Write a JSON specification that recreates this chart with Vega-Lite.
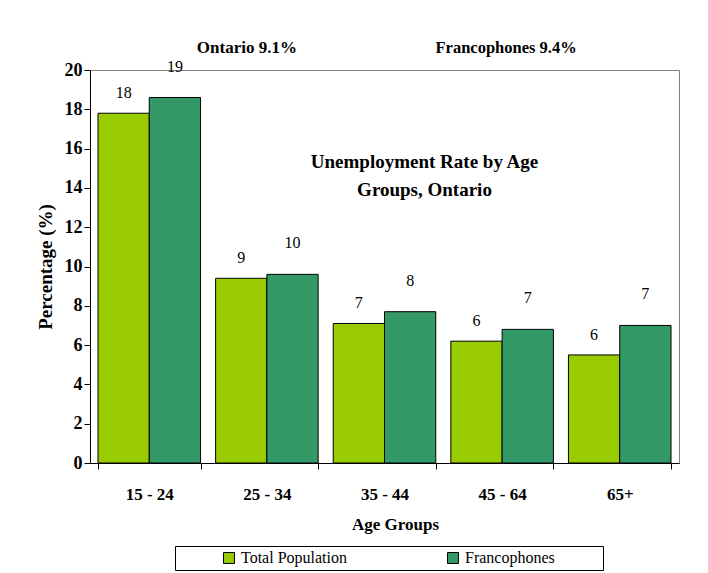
{
  "$schema": "https://vega.github.io/schema/vega-lite/v6.json",
  "autosize": "none",
  "width": 589,
  "height": 393,
  "padding": {"left": 90, "top": 70, "right": 29, "bottom": 110},
  "background": "white",
  "title": {
    "text": ["Unemployment Rate by Age", "Groups, Ontario"],
    "anchor": "middle",
    "baseline": "top",
    "offset": 0,
    "dx": 40,
    "dy": 161,
    "lineHeight": 28,
    "font": "Liberation Serif",
    "fontSize": 19,
    "fontWeight": "bold",
    "color": "black"
  },
  "config": {
    "view": {"stroke": "#808080", "strokeWidth": 1},
    "font": "Liberation Serif",
    "axis": {
      "domainColor": "black",
      "tickColor": "black",
      "labelColor": "black",
      "titleColor": "black",
      "labelFont": "Liberation Serif",
      "titleFont": "Liberation Serif",
      "labelFontWeight": "bold",
      "titleFontWeight": "bold",
      "grid": false,
      "tickSize": 6
    }
  },
  "data": {
    "values": [
      {"age": "15 - 24", "group": "Total Population", "rate": 17.8},
      {"age": "15 - 24", "group": "Francophones", "rate": 18.6},
      {"age": "25 - 34", "group": "Total Population", "rate": 9.4},
      {"age": "25 - 34", "group": "Francophones", "rate": 9.6},
      {"age": "35 - 44", "group": "Total Population", "rate": 7.1},
      {"age": "35 - 44", "group": "Francophones", "rate": 7.7},
      {"age": "45 - 64", "group": "Total Population", "rate": 6.2},
      {"age": "45 - 64", "group": "Francophones", "rate": 6.8},
      {"age": "65+", "group": "Total Population", "rate": 5.5},
      {"age": "65+", "group": "Francophones", "rate": 7.0}
    ]
  },
  "encoding": {
    "x": {
      "field": "age",
      "type": "nominal",
      "sort": ["15 - 24", "25 - 34", "35 - 44", "45 - 64", "65+"],
      "scale": {"paddingInner": 0.128, "paddingOuter": 0.068},
      "axis": {
        "title": "Age Groups",
        "labelAngle": 0,
        "labelFontSize": 17,
        "titleFontSize": 17,
        "labelPadding": 17,
        "titlePadding": 14,
        "titleX": 305,
        "tickBand": "extent"
      }
    },
    "y": {
      "field": "rate",
      "type": "quantitative",
      "scale": {"domain": [0, 20], "nice": false},
      "axis": {
        "title": "Percentage (%)",
        "values": [0, 2, 4, 6, 8, 10, 12, 14, 16, 18, 20],
        "labelFontSize": 18,
        "titleFontSize": 19,
        "labelPadding": 2,
        "titlePadding": 9
      }
    }
  },
  "layer": [
    {
      "mark": {"type": "bar", "stroke": "black", "strokeWidth": 1},
      "encoding": {
        "xOffset": {"field": "group", "type": "nominal", "sort": ["Total Population", "Francophones"]},
        "color": {
          "field": "group",
          "type": "nominal",
          "sort": ["Total Population", "Francophones"],
          "scale": {"domain": ["Total Population", "Francophones"], "range": ["#99CC00", "#339966"]},
          "legend": {
            "title": "\u00a0",
            "titleOrient": "right",
            "titlePadding": 44,
            "titleFontSize": 10,
            "orient": "none",
            "direction": "horizontal",
            "legendX": 85,
            "legendY": 476,
            "padding": 4,
            "strokeColor": "black",
            "fillColor": "white",
            "symbolType": "square",
            "symbolSize": 120,
            "symbolStrokeColor": "black",
            "symbolStrokeWidth": 1,
            "symbolOffset": 42,
            "labelOffset": 4,
            "columnPadding": 56,
            "gridAlign": "all",
            "labelFont": "Liberation Serif",
            "labelFontSize": 16,
            "labelColor": "black",
            "labelLimit": 300
          }
        }
      }
    },
    {
      "transform": [{"filter": "datum.group === 'Total Population'"}],
      "mark": {"type": "text", "baseline": "middle", "dy": -20, "font": "Liberation Serif", "fontSize": 16, "color": "black"},
      "encoding": {
        "xOffset": {"field": "group", "type": "nominal", "sort": ["Total Population", "Francophones"]},
        "text": {"field": "rate", "type": "quantitative", "format": ".0f"}
      }
    },
    {
      "transform": [{"filter": "datum.group === 'Francophones'"}],
      "mark": {"type": "text", "baseline": "middle", "dy": -31, "font": "Liberation Serif", "fontSize": 16, "color": "black"},
      "encoding": {
        "xOffset": {"field": "group", "type": "nominal", "sort": ["Total Population", "Francophones"]},
        "text": {"field": "rate", "type": "quantitative", "format": ".0f"}
      }
    },
    {
      "transform": [{"filter": "datum.age === '25 - 34' && datum.group === 'Total Population'"}],
      "mark": {"type": "text", "baseline": "middle", "dx": -20, "font": "Liberation Serif", "fontSize": 17, "fontWeight": "bold", "color": "black"},
      "encoding": {
        "y": {"datum": 21.1, "type": "quantitative"},
        "text": {"value": "Ontario 9.1%"}
      }
    },
    {
      "transform": [{"filter": "datum.age === '45 - 64' && datum.group === 'Total Population'"}],
      "mark": {"type": "text", "baseline": "middle", "dx": 4, "font": "Liberation Serif", "fontSize": 16.5, "fontWeight": "bold", "color": "black"},
      "encoding": {
        "y": {"datum": 21.1, "type": "quantitative"},
        "text": {"value": "Francophones 9.4%"}
      }
    }
  ]
}
